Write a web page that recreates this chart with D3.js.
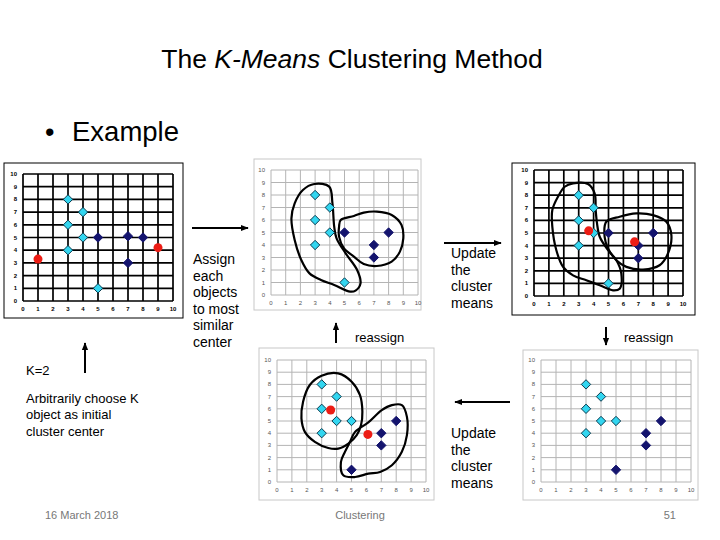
<!DOCTYPE html>
<html>
<head>
<meta charset="utf-8">
<script src="https://cdn.jsdelivr.net/npm/d3@7"></script>
<style>
  body { margin: 0; background: #fff; }
  svg text { font-family: "Liberation Sans", Arial, sans-serif; }
</style>
</head>
<body>
<svg id="slide" width="720" height="540"></svg>
<script>
// tick labels used on both axes of every little plot
const tickValues = [0, 1, 2, 3, 4, 5, 6, 7, 8, 9, 10];

// step 0: objects and arbitrary initial centres
const initCyan = [[3, 8], [4, 7], [3, 6], [4, 5], [3, 4], [5, 1]];
const initNavy = [[5, 5], [7, 5.1], [8, 5], [7, 3]];
const initCenters = [[1, 3.3], [9, 4.2]];

// step 1 / 2: first assignment and updated means
const firstCyan = [[3, 8], [4, 7], [3, 6], [4, 5], [3, 4], [5, 1]];
const firstNavy = [[5, 5], [7, 4], [7, 3], [8, 5]];
const updatedCenters = [[3.67, 5.17], [6.75, 4.3]];

// step 3 / 4: reassignment and new means
const secondCyan = [[3, 8], [4, 7], [3, 6], [4, 5], [5, 5], [3, 4]];
const secondNavy = [[7, 4], [7, 3], [8, 5], [5, 1]];
const secondCenters = [[3.6, 5.9], [6.1, 3.9]];

// hand drawn cluster outlines (data coordinates)
const outlineA1 = [[2.95, 8.88], [3.96, 8.67], [4.18, 7.33], [4.3, 5.47], [4.46, 4.53], [5.08, 3.33], [5.86, 2.0], [6.09, 0.93],
  [5.75, 0.35], [5.39, 0.27], [4.3, 0.8], [3.4, 1.2], [2.62, 1.73], [2.06, 2.8], [1.61, 4.4], [1.39, 6.13], [1.61, 7.33], [2.17, 8.4]];
const outlineB1 = [[4.74, 6.0], [5.64, 6.32], [6.31, 6.59], [7.2, 6.67], [8.21, 6.4], [8.88, 5.6], [9.0, 4.53], [8.77, 3.47],
  [8.21, 2.67], [7.2, 2.32], [6.31, 2.48], [5.64, 3.07], [4.97, 3.73], [4.63, 4.67], [4.63, 5.47]];
const outlineA2 = [[2.62, 8.94], [3.62, 8.89], [4.07, 8.14], [4.14, 6.82], [4.23, 5.76], [4.41, 4.7], [4.97, 3.64], [5.53, 2.84],
  [5.86, 1.78], [5.75, 0.58], [5.3, 0.45], [4.41, 0.85], [3.51, 1.25], [2.62, 1.64], [1.95, 2.31], [1.5, 3.63], [1.23, 5.49],
  [1.23, 6.82], [1.61, 7.88], [2.06, 8.67]];
const outlineB2 = [[4.85, 5.89], [5.75, 6.29], [6.87, 6.55], [7.99, 6.42], [8.88, 5.89], [9.22, 4.83], [8.99, 3.37], [8.43, 2.44],
  [7.32, 2.1], [6.2, 2.31], [5.53, 2.84], [4.97, 3.77], [4.74, 4.69]];
const outlineA3 = [[2.99, 8.71], [4.11, 8.9], [5.01, 8.22], [5.57, 7.12], [5.73, 5.75], [5.64, 4.66], [5.35, 3.84], [4.79, 3.15],
  [4.11, 2.74], [3.44, 2.79], [2.54, 3.29], [1.87, 4.11], [1.64, 5.21], [1.75, 6.58], [2.2, 7.95]];
const outlineB3 = [[5.24, 4.11], [6.13, 4.88], [7.03, 5.89], [7.71, 6.3], [8.38, 6.3], [8.72, 5.34], [8.72, 3.84], [8.38, 2.47],
  [7.71, 1.37], [6.92, 0.82], [6.13, 0.68], [5.24, 0.41], [4.45, 0.55], [4.29, 1.64], [4.56, 2.47], [4.9, 3.29]];

const assignText = ["Assign", "each", "objects", "to most", "similar", "center"];
const updateText = ["Update", "the", "cluster", "means"];
const startText = ["Arbitrarily choose K", "object as initial", "cluster center"];

const svg = d3.select("#slide");

const defs = svg.append("defs");
defs.append("marker")
  .attr("id", "head")
  .attr("viewBox", "0 0 10 10")
  .attr("refX", 9).attr("refY", 5)
  .attr("markerWidth", 4).attr("markerHeight", 4)
  .attr("orient", "auto")
  .append("path")
  .attr("d", "M0,1 L10,5 L0,9 Z")
  .attr("fill", "#000");

const colors = { cyan: "#33d6f0", navy: "#14146e", red: "#ec1c14" };

function drawPanel(p) {
  const g = svg.append("g");
  g.append("rect")
    .attr("x", p.box[0]).attr("y", p.box[1])
    .attr("width", p.box[2] - p.box[0]).attr("height", p.box[3] - p.box[1])
    .attr("fill", "#fff")
    .attr("stroke", p.dark ? "#000" : "#c8c8c8")
    .attr("stroke-width", 1);

  const x = d3.scaleLinear().domain([0, 10]).range([p.plot[0], p.plot[1]]);
  const y = d3.scaleLinear().domain([0, 10]).range([p.plot[3], p.plot[2]]);

  const gridColor = p.dark ? "#000" : "#b4b4b4";
  const gridWidth = p.dark ? 1.7 : 1;

  g.selectAll(".vgrid").data(tickValues).enter()
    .append("line")
    .attr("x1", d => x(d)).attr("x2", d => x(d))
    .attr("y1", y(0)).attr("y2", y(10))
    .attr("stroke", gridColor).attr("stroke-width", gridWidth);
  g.selectAll(".hgrid").data(tickValues).enter()
    .append("line")
    .attr("x1", x(0)).attr("x2", x(10))
    .attr("y1", d => y(d)).attr("y2", d => y(d))
    .attr("stroke", gridColor).attr("stroke-width", gridWidth);

  const labColor = p.dark ? "#000" : "#555";
  const fw = p.dark ? "bold" : "normal";
  g.selectAll(".xl").data(tickValues).enter()
    .append("text")
    .attr("x", d => x(d)).attr("y", y(0) + 10)
    .attr("text-anchor", "middle")
    .attr("font-size", 6).attr("font-weight", fw)
    .attr("fill", labColor)
    .text(d => d);
  g.selectAll(".yl").data(tickValues).enter()
    .append("text")
    .attr("x", x(0) - 6).attr("y", d => y(d) + 2)
    .attr("text-anchor", "end")
    .attr("font-size", 6).attr("font-weight", fw)
    .attr("fill", labColor)
    .text(d => d);

  const line = d3.line().x(d => x(d[0])).y(d => y(d[1])).curve(d3.curveCatmullRomClosed.alpha(0.5));
  (p.outlines || []).forEach(o => {
    g.append("path").attr("d", line(o))
      .attr("fill", "none").attr("stroke", "#000").attr("stroke-width", 2.2);
  });

  const diamond = d3.symbol().type(d3.symbolDiamond2).size(56);
  const drawDiamonds = (pts, fill, stroke) => {
    g.selectAll(null).data(pts).enter()
      .append("path")
      .attr("d", diamond)
      .attr("transform", d => "translate(" + x(d[0]) + "," + y(d[1]) + ")")
      .attr("fill", fill).attr("stroke", stroke).attr("stroke-width", 1);
  };
  drawDiamonds(p.cyan, colors.cyan, "#0a3c50");
  drawDiamonds(p.navy, colors.navy, colors.navy);

  g.selectAll(null).data(p.centers || []).enter()
    .append("circle")
    .attr("cx", d => x(d[0])).attr("cy", d => y(d[1]))
    .attr("r", 4.5)
    .attr("fill", colors.red);
}

drawPanel({ box: [4, 163, 183, 318], plot: [23, 173, 174, 301], dark: true,
  cyan: initCyan, navy: initNavy, centers: initCenters });
drawPanel({ box: [254, 159, 421, 310], plot: [271, 418, 170, 295], dark: false,
  cyan: firstCyan, navy: firstNavy, outlines: [outlineA1, outlineB1] });
drawPanel({ box: [512, 163, 695, 315], plot: [534, 683, 170, 296], dark: true,
  cyan: firstCyan, navy: firstNavy, centers: updatedCenters, outlines: [outlineA2, outlineB2] });
drawPanel({ box: [259, 348, 434, 500], plot: [277, 426, 360, 482], dark: false,
  cyan: secondCyan, navy: secondNavy, centers: secondCenters, outlines: [outlineA3, outlineB3] });
drawPanel({ box: [523, 350, 698, 500], plot: [541, 691, 360, 482], dark: false,
  cyan: secondCyan, navy: secondNavy });

// title
const title = svg.append("text").attr("x", 352).attr("y", 68)
  .attr("text-anchor", "middle").attr("font-size", 26.5).attr("fill", "#000");
title.append("tspan").text("The ");
title.append("tspan").attr("font-style", "italic").text("K-Means");
title.append("tspan").text(" Clustering Method");

svg.append("text").attr("x", 45).attr("y", 141).attr("font-size", 27).text("\u2022");
svg.append("text").attr("x", 72).attr("y", 141).attr("font-size", 27.5).text("Example");

// arrows
function arrow(x1, y1, x2, y2) {
  svg.append("line")
    .attr("x1", x1).attr("y1", y1).attr("x2", x2).attr("y2", y2)
    .attr("stroke", "#000").attr("stroke-width", 2)
    .attr("marker-end", "url(#head)");
}
arrow(192, 228, 248, 228);
arrow(444, 243, 501, 243);
arrow(336, 343, 336, 323);
arrow(606, 327, 606, 345);
arrow(510, 402, 455, 402);
arrow(85, 373, 85, 343);

const textBlock = (lines, x, y0, step, size) => {
  svg.selectAll(null).data(lines).enter()
    .append("text")
    .attr("x", x).attr("y", (d, i) => y0 + i * step)
    .attr("font-size", size).attr("fill", "#000")
    .text(d => d);
};
textBlock(assignText, 193, 264, 16.6, 14);
textBlock(updateText, 451, 258, 16.6, 14);
textBlock(updateText, 451, 438, 16.6, 14);
textBlock(["K=2"], 26, 375, 16, 13);
textBlock(startText, 26, 403, 16.3, 13);

svg.append("text").attr("x", 355).attr("y", 342).attr("font-size", 13).text("reassign");
svg.append("text").attr("x", 624).attr("y", 342).attr("font-size", 13).text("reassign");

// footer
svg.append("text").attr("x", 45).attr("y", 519).attr("font-size", 11).attr("fill", "#777").text("16 March 2018");
svg.append("text").attr("x", 360).attr("y", 519).attr("font-size", 11).attr("fill", "#777")
  .attr("text-anchor", "middle").text("Clustering");
svg.append("text").attr("x", 676).attr("y", 519).attr("font-size", 11).attr("fill", "#777")
  .attr("text-anchor", "end").text("51");
</script>
</body>
</html>
